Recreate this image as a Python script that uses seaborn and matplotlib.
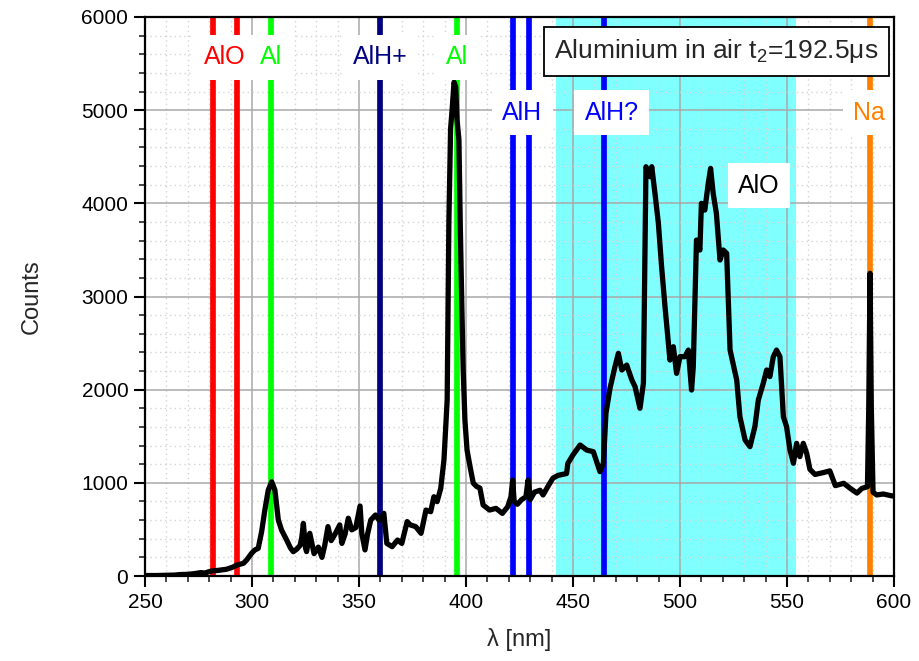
import matplotlib
matplotlib.use("Agg")
import matplotlib.pyplot as plt
import numpy as np
import pandas as pd
import seaborn as sns
from matplotlib.ticker import MultipleLocator

# ---------------- data ----------------
wavelength = [250, 255, 260, 264, 266, 270, 273, 276, 278, 281, 284, 288, 291, 293, 296,
              297.5, 299.8, 301.3, 302.9, 304.5, 306, 307.6, 309.2, 310.7, 312.3, 313.8,
              316.2, 318, 319.3, 321, 322.5, 323.3, 324, 325, 325.5, 327, 328, 329, 331,
              332.7, 334, 335.5, 337, 339, 341, 342, 343.5, 345, 346.6, 348.5, 350.5,
              351.3, 352.8, 354, 355.5, 357.7, 359.3, 360.5, 361.6, 363, 365.5, 368, 370,
              372.5, 374, 376.5, 379, 381.3, 383.5, 385, 386.5, 388.2, 389.7, 391.2, 392,
              392.8, 393.5, 394.4, 395.2, 395.8, 396.7, 397.3, 398, 398.7, 399.5, 400.5,
              401.9, 403.4, 405, 406.5, 408, 411, 414, 417, 419.5, 421, 421.8, 422.5, 424,
              426, 428, 429, 430, 432, 434.6, 436, 438, 440.6, 443, 447, 447.6, 450, 453.3,
              456.4, 459.5, 462.6, 464.2, 465.4, 467.3, 469.6, 471.2, 472.8, 475.1, 477.5,
              479, 481.3, 482.9, 484.1, 486, 486.8, 488.3, 489.9, 491.4, 493, 495.3, 496.9,
              498.4, 500, 502.3, 503.9, 505.4, 506.2, 507.7, 509.3, 510, 511.6, 513.2,
              514.3, 515.5, 517, 518.7, 520.2, 521.8, 523.4, 526.5, 528, 530.4, 532.7, 535,
              536.6, 538.9, 540.5, 542, 543.6, 545.1, 546.7, 548.3, 549.8, 551.4, 553,
              554.5, 556, 557.6, 559.2, 560.7, 563.1, 567, 570, 572.6, 576.5, 579.6, 582.7,
              585, 587.6, 588.2, 588.8, 589.4, 590.2, 591.9, 595, 599, 600]
counts = [5, 5, 8, 10, 15, 18, 25, 36, 32, 54, 60, 72, 95, 118, 136,
          172, 243, 279, 297, 476, 708, 923, 1012, 923, 601, 494,
          386, 300, 261, 290, 330, 420, 565, 300, 262, 458, 350, 240, 310,
          200, 330, 530, 380, 458, 548, 350, 450, 620, 495, 520, 751,
          458, 280, 450, 601, 655, 601, 620, 673, 350, 315, 386, 350,
          584, 548, 530, 458, 708, 690, 851, 798, 941, 1245, 1889, 3800,
          4800, 5000, 5300, 5250, 4900, 4680, 3800, 2960, 2200, 1670, 1350,
          1173, 997, 960, 944, 762, 708, 726, 672, 744, 850, 1030, 800, 770,
          820, 850, 1030, 820, 900, 920, 870, 950, 1050, 1080, 1100, 1210, 1300, 1406,
          1352, 1334, 1120, 1210, 1746, 2015, 2246, 2390, 2211, 2264, 2104,
          2032, 1800, 2068, 4393, 4286, 4393, 4107, 3785, 3320, 2890, 2318, 2461,
          2175, 2354, 2354, 2425, 1996, 2246, 3606, 3499, 4000, 3928, 4214,
          4375, 4107, 3893, 3392, 3499, 3463, 2425, 2104, 1710, 1460, 1388, 1603,
          1889, 2068, 2211, 2140, 2354, 2425, 2354, 1710, 1603, 1352, 1210,
          1424, 1281, 1424, 1317, 1145, 1090, 1110, 1128, 970, 995, 940, 890,
          940, 959, 1800, 3249, 1800, 900, 870, 880, 860, 860]

line_positions = [282, 293, 309, 360, 396, 422, 429.5, 464.5, 588.8]
line_colors = ["#ff0000", "#ff0000", "#00ff00", "#000080", "#00ff00",
               "#0000ff", "#0000ff", "#0000ff", "#ff8000"]

label_texts = ["AlO", "Al", "AlH+", "Al", "AlH", "AlH?", "Na", "AlO"]
label_x = [287.5, 309, 360, 396, 426.4, 468.2, 588.5, 537]
label_y = [5570, 5570, 5570, 5570, 4970, 4970, 4970, 4190]
label_colors = ["#ff0000", "#00ff00", "#000080", "#00ff00",
                "#0000ff", "#0000ff", "#ff8000", "#000000"]

band_range = [442, 554]
title_text = "Aluminium in air t$_2$=192.5\u03bcs"

x_ticks = [250, 300, 350, 400, 450, 500, 550, 600]
y_ticks = [0, 1000, 2000, 3000, 4000, 5000, 6000]

# ---------------- style ----------------
sns.set_style("ticks")
plt.rcParams["font.family"] = ["Liberation Sans", "DejaVu Sans"]
plt.rcParams["mathtext.fontset"] = "custom"
plt.rcParams["mathtext.rm"] = "Liberation Sans"
plt.rcParams["mathtext.it"] = "Liberation Sans:italic"
plt.rcParams["mathtext.default"] = "regular"

fig = plt.figure(figsize=(9.19, 6.61), dpi=100)
ax = fig.add_axes([145 / 919, 85 / 661, 749 / 919, 559 / 661])

df = pd.DataFrame({"wl": wavelength, "c": counts})

ax.axvspan(band_range[0], band_range[1], color="#80ffff", lw=0, zorder=0.1)

for xp, col in zip(line_positions, line_colors):
    ax.axvline(xp, color=col, lw=4.1, zorder=2)

sns.lineplot(data=df, x="wl", y="c", ax=ax, color="black", lw=3.8, zorder=3,
             solid_joinstyle="round", solid_capstyle="round")

for t, xv, yv, col in zip(label_texts, label_x, label_y, label_colors):
    ax.text(xv, yv, t, color=col, fontsize=18, ha="center", va="center", zorder=5,
            bbox=dict(boxstyle="square,pad=0.42", fc="white", ec="none"))

ax.text(0.7627, 0.939, title_text, transform=ax.transAxes, fontsize=19,
        ha="center", va="center", zorder=6,
        bbox=dict(boxstyle="square,pad=0.4", fc="white", ec="black", lw=1.3))

ax.set_xlim(250, 600)
ax.set_ylim(0, 6000)
ax.set_xticks(x_ticks)
ax.set_yticks(y_ticks)
ax.xaxis.set_minor_locator(MultipleLocator(10))
ax.yaxis.set_minor_locator(MultipleLocator(200))

ax.set_axisbelow(True)
ax.grid(which="major", color="#a8a8a8", lw=1.1, ls="-", zorder=0.5)
ax.grid(which="minor", color="#d4d4d4", lw=1.0, ls=(0, (1, 2.5)), zorder=0.4)

for s in ax.spines.values():
    s.set_visible(True)
    s.set_color("black")
    s.set_linewidth(1.6)
    s.set_zorder(7)

ax.tick_params(which="major", direction="out", length=8, width=1.5, labelsize=15,
               colors="black", pad=4)
ax.tick_params(which="minor", direction="out", length=4.5, width=1.2)

ax.set_xlabel("\u03bb [nm]", fontsize=17, labelpad=12)
ax.set_ylabel("Counts", fontsize=17, labelpad=28)

fig.savefig("out.png", dpi=100)
